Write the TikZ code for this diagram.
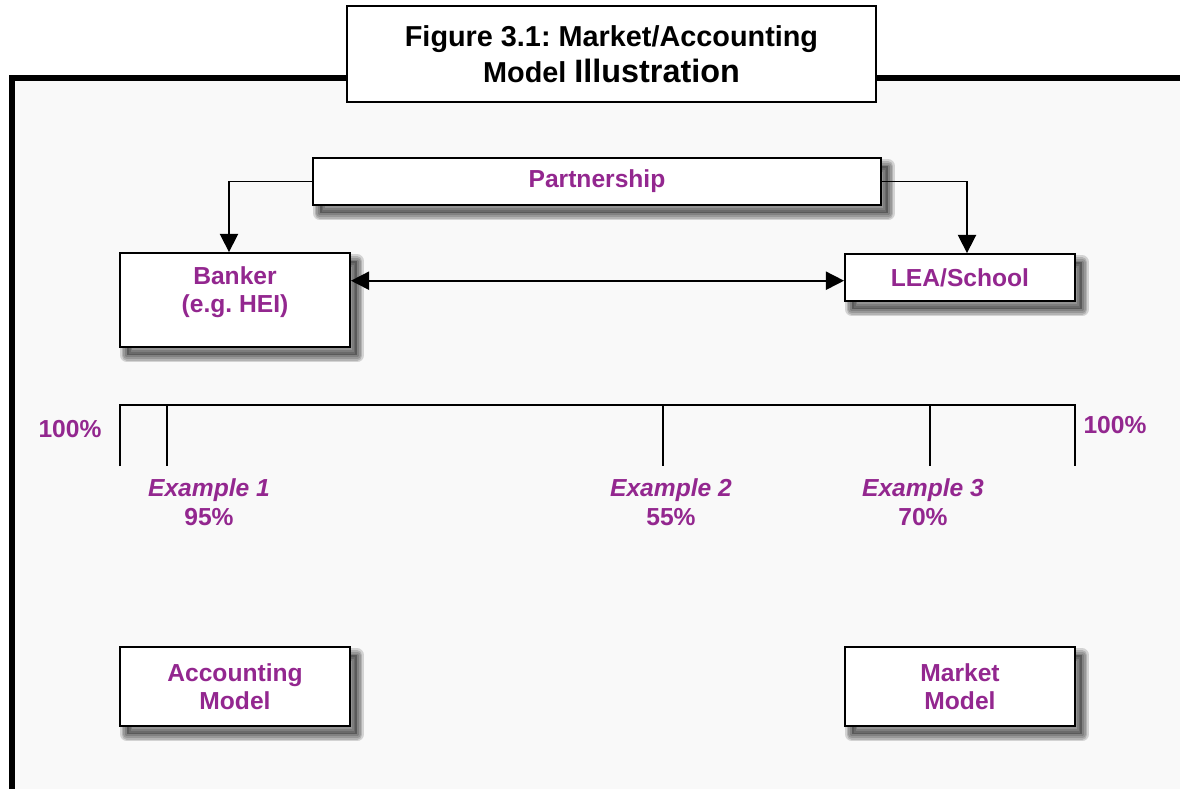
\documentclass[tikz,border=0pt]{standalone}
\usepackage{fontspec}
\setmainfont{Liberation Sans}
\usetikzlibrary{arrows.meta,positioning}
\definecolor{plum}{HTML}{93278F}
\colorlet{paper}{black!2.5}
\frenchspacing
\newcommand{\example}[2]{\textit{Example #1}\\ #2\%}
\tikzset{haze/.style={preaction={draw=black, draw opacity=.15, line width=#1, line join=round,
            transform canvas={xshift=5pt, yshift=-6pt}}},
         softshadow/.style={preaction={fill=black, fill opacity=.3,
            transform canvas={xshift=5pt, yshift=-6pt}},
            haze=10pt, haze=7.5pt, haze=5pt, haze=2.5pt},
         box/.style={rectangle, draw=black, line width=1.3pt, fill=white, align=center,
            font=\bfseries\fontsize{17.5}{20}\selectfont, text=plum,
            minimum width=5.75cm, minimum height=1.175cm, softshadow},
         titlebox/.style={rectangle, draw=black, line width=0.9pt, fill=white, align=center,
            font=\bfseries\fontsize{20.5}{25.5}\selectfont,
            minimum width=13.225cm, minimum height=2.4cm},
         tip/.tip={Triangle[length=13pt,width=13pt]},
         link/.style={line width=1.2pt, -tip},
         tick/.style={line width=1pt},
         pct/.style={font=\bfseries\fontsize{17.5}{20.5}\selectfont, text=plum, align=center}}

\begin{document}
\begin{tikzpicture}[x=0.025cm, y=-0.025cm]
\useasboundingbox (0,0) rectangle (1180,789);
% sheet with its heavy frame
\fill[paper] (12,78) rectangle (1180,789);
\draw[line width=3.6pt] (12,789) -- (12,78) -- (1180,78);
\node[titlebox] (title) at (611.5,54)
   {Figure 3.1: Market/Accounting\\Model {\fontsize{23}{25.5}\selectfont Illustration}};

% who is involved
\node[box, minimum width=14.2cm] (partner) at (597,181.5) {Partnership};
\node[box, minimum height=2.35cm, text depth=15pt] (banker) at (235,300) {Banker\\(e.g. HEI)};
\node[box] (school) at (960,277.5) {LEA/School};
\draw[link] (partner.west) -| ([xshift=-1.5mm]banker.north);
\draw[link] (partner.east) -| ([xshift=1.75mm]school.north);
\draw[link, tip-tip] ([yshift=-0.8mm]school.west -| banker.east) -- ([yshift=-0.8mm]school.west);

% the scale between the two models
\draw[tick] (120,466) -- (120,405) -- (1075,405) -- (1075,466);
\foreach \x in {167,663,930}
   \draw[tick] (\x,405) -- (\x,466);
\node[pct] (lefttop) at (70,429) {100\%};
\node[pct] (righttop) at (1115,425) {100\%};
\node[pct] (ex1) at (209,502) {\example{1}{95}};
\node[pct] (ex2) at (671,502) {\example{2}{55}};
\node[pct] (ex3) at (923,502) {\example{3}{70}};

\node[box, minimum height=1.975cm] (account) at (235,686.5) {Accounting\\Model};
\node[box, minimum height=1.975cm] (market) at (960,686.5) {Market\\Model};
\end{tikzpicture}
\end{document}
